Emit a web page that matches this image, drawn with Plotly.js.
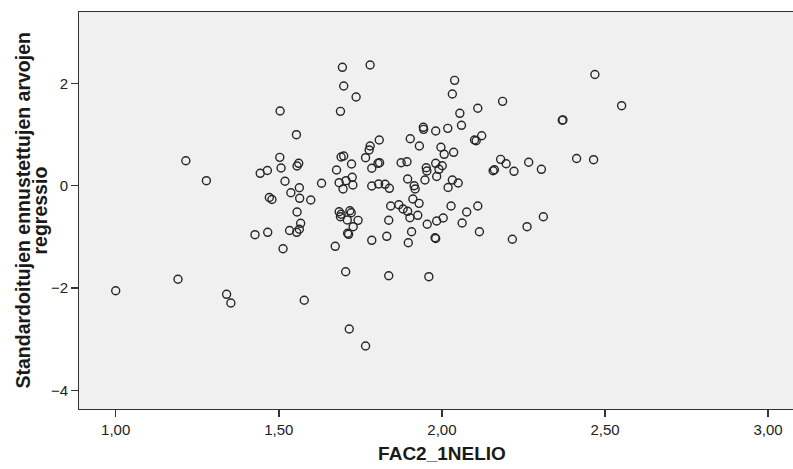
<!DOCTYPE html>
<html>
<head>
<meta charset="utf-8">
<script src="https://cdn.plot.ly/plotly-3.0.1.min.js"></script>
<style>
html,body{margin:0;padding:0;background:#fff;overflow:hidden;}
#chart{width:806px;height:469px;}
</style>
</head>
<body>
<div id="chart"></div>
<script>
// FAC2_1NELIO values (x)
const fac2 = [
 1.000,1.191,1.215,1.278,1.340,1.353,1.427,1.443,1.465,1.466,
 1.471,1.479,1.504,1.503,1.507,1.519,1.513,1.537,1.533,1.554,
 1.561,1.556,1.563,1.564,1.598,1.556,1.567,1.555,1.563,1.578,
 1.631,1.695,1.780,1.699,1.737,1.689,1.691,1.699,1.723,1.677,
 1.685,1.706,1.725,1.727,1.697,1.685,1.691,1.689,1.718,1.722,
 1.710,1.743,1.728,1.711,1.714,1.673,1.705,1.716,1.766,1.808,
 1.780,1.777,1.766,1.804,1.809,1.785,1.785,1.806,1.826,1.839,
 1.843,1.837,1.831,1.785,1.837,1.875,1.893,1.903,1.931,1.943,
 1.944,1.981,1.997,1.952,1.981,1.984,1.895,1.915,1.918,1.948,
 1.954,1.911,1.930,1.868,1.881,1.895,1.902,1.926,1.955,1.984,
 1.907,1.897,1.979,1.981,1.960,2.039,2.032,2.469,2.186,2.055,
 2.110,2.018,2.060,2.369,2.371,2.100,2.105,2.122,2.007,2.036,
 2.001,1.991,2.032,2.050,2.019,2.180,2.197,2.157,2.161,2.221,
 2.266,2.305,2.413,2.465,2.551,2.028,2.076,2.110,2.062,2.115,
 2.004,2.216,2.261,2.311
];
// Standardized predicted values (y)
const regressio = [
 -2.050,-1.827,0.488,0.098,-2.120,-2.290,-0.956,0.242,0.297,-0.910,
 -0.230,-0.270,1.458,0.554,0.345,0.086,-1.230,-0.137,-0.875,0.996,
 0.437,0.385,-0.039,-0.246,-0.279,-0.513,-0.734,-0.910,-0.851,-2.237,
 0.047,2.311,2.356,1.946,1.731,1.452,0.560,0.580,0.424,0.306,
 0.059,0.098,0.164,0.014,-0.064,-0.508,-0.558,-0.605,-0.488,-0.527,
 -0.670,-0.676,-0.800,-0.929,-0.949,-1.183,-1.679,-2.797,-3.129,0.892,
 0.775,0.697,0.547,0.437,0.449,0.340,-0.006,0.033,0.027,-0.051,
 -0.396,-0.675,-0.988,-1.066,-1.757,0.449,0.468,0.917,0.775,1.140,
 1.100,1.068,0.750,0.351,0.437,0.180,0.131,0.000,-0.064,0.111,
 0.287,-0.260,-0.344,-0.371,-0.455,-0.500,-0.625,-0.578,-0.753,-0.689,
 -0.898,-1.113,-1.015,-1.030,-1.776,2.057,1.790,2.170,1.647,1.413,
 1.511,1.120,1.179,1.277,1.285,0.892,0.878,0.976,0.613,0.652,
 0.390,0.320,0.111,0.053,-0.035,0.515,0.429,0.293,0.312,0.281,
 0.457,0.320,0.531,0.508,1.562,-0.396,-0.513,-0.396,-0.728,-0.898,
 -0.630,-1.046,-0.800,-0.605
];
const xTicks = [1.0, 1.5, 2.0, 2.5, 3.0];
const yTicks = [-4, -2, 0, 2];
const xTitle = "FAC2_1NELIO";
const yTitleLines = ["Standardoitujen ennustettujen arvojen", "regressio"];

const trace = {
  x: fac2, y: regressio, type: 'scatter', mode: 'markers',
  marker: {symbol: 'circle-open', size: 8, color: '#262626', line: {width: 1.4, color: '#262626'}},
  hoverinfo: 'skip'
};
const axisFont = {family: 'Liberation Sans, Arial, sans-serif', size: 15, color: '#222'};
const fontFam = 'Liberation Sans, Arial, sans-serif';
const layout = {
  width: 806, height: 469,
  margin: {l: 79, r: 1, t: 12, b: 60},
  paper_bgcolor: '#ffffff', plot_bgcolor: '#f0f0f0',
  separators: ',.',
  showlegend: false,
  xaxis: {
    range: [0.8875, 3.1131], tickvals: xTicks, tickformat: '.2f',
    ticks: 'outside', ticklen: 7, tickwidth: 1.5, tickcolor: '#333',
    showline: true, linecolor: '#333', linewidth: 1, mirror: true,
    showgrid: false, zeroline: false, tickfont: axisFont,
    title: {text: xTitle, standoff: 9, font: {family: fontFam, size: 19, color: '#1a1a1a', weight: 'bold'}}
  },
  yaxis: {
    range: [-4.359, 3.391], tickvals: yTicks,
    ticks: 'outside', ticklen: 7, tickwidth: 1.5, tickcolor: '#333',
    showline: true, linecolor: '#333', linewidth: 1, mirror: true,
    showgrid: false, zeroline: false, tickfont: axisFont,
    title: {text: ''}
  },
  annotations: [
    {text: yTitleLines[0], xref: 'paper', yref: 'paper', x: 0, y: 0.5, xshift: -57,
     xanchor: 'center', yanchor: 'middle', textangle: -90, showarrow: false,
     font: {family: fontFam, size: 19.5, color: '#1a1a1a', weight: 'bold'}},
    {text: yTitleLines[1], xref: 'paper', yref: 'paper', x: 0, y: 0.5, xshift: -40,
     xanchor: 'center', yanchor: 'middle', textangle: -90, showarrow: false,
     font: {family: fontFam, size: 19.5, color: '#1a1a1a', weight: 'bold'}}
  ]
};
Plotly.newPlot('chart', [trace], layout, {displayModeBar: false, staticPlot: true});
</script>
</body>
</html>
